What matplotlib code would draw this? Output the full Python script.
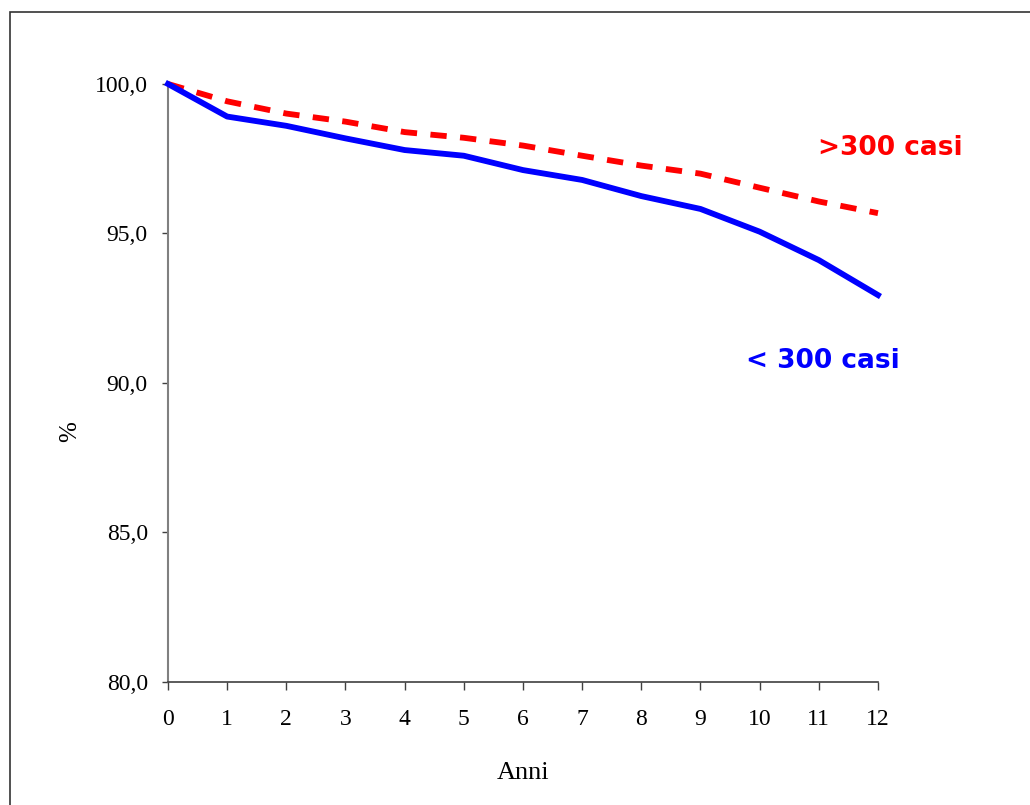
import matplotlib
matplotlib.use('Agg')
import matplotlib.pyplot as plt
from matplotlib.patches import Rectangle

anni = [0, 1, 2, 3, 4, 5, 6, 7, 8, 9, 10, 11, 12]
meno_300 = [100.0, 98.91, 98.60, 98.18, 97.79, 97.60, 97.12, 96.79, 96.25, 95.82, 95.06, 94.11, 92.94]
piu_300 = [100.0, 99.42, 99.01, 98.74, 98.39, 98.20, 97.94, 97.60, 97.27, 97.00, 96.53, 96.07, 95.68]
y_ticks = [80, 85, 90, 95, 100]
y_labels = ['80,0', '85,0', '90,0', '95,0', '100,0']

fig = plt.figure(figsize=(10.3, 8.05), dpi=100)
ax = fig.add_axes([0.1631, 0.1528, 0.6893, 0.7429])

# cornice esterna del grafico
fig.patches.append(Rectangle((10 / 1030, -0.05), 1.1, 1 - 12 / 805 + 0.05,
                             transform=fig.transFigure, fill=False,
                             edgecolor='#333333', linewidth=1.2))

ax.plot(anni, piu_300, color='red', linewidth=4.2, linestyle=(0, (2.8, 2.3)),
        solid_capstyle='butt', dash_capstyle='butt', clip_on=False, zorder=3)
ax.plot(anni, meno_300, color='#0000ff', linewidth=4.2, clip_on=False, zorder=4)

ax.set_xlim(0, 12)
ax.set_ylim(80, 100)
ax.set_xticks(anni)
ax.set_xticklabels([str(a) for a in anni], family='Liberation Serif', fontsize=17)
ax.set_yticks(y_ticks)
ax.set_yticklabels(y_labels, family='Liberation Serif', fontsize=17)

for s in ['top', 'right']:
    ax.spines[s].set_visible(False)
ax.spines['left'].set_color('#808080')
ax.spines['left'].set_linewidth(1.5)
ax.spines['bottom'].set_color('#404040')
ax.spines['bottom'].set_linewidth(1.2)
ax.tick_params(axis='x', direction='out', length=5.8, width=1.0, color='#404040', pad=14)
ax.tick_params(axis='y', direction='out', length=4.5, width=1.0, color='#404040', pad=10)

ax.set_xlabel('Anni', family='Liberation Serif', fontsize=19)
ax.xaxis.set_label_coords(0.5, -0.133)
ax.set_ylabel('%', family='Liberation Serif', fontsize=18)
ax.yaxis.set_label_coords(-0.123, 0.418)

ax.text(890 / 1030, 1 - 148 / 805, '>300 casi', transform=fig.transFigure,
        color='red', fontsize=19, fontweight='bold', ha='center', va='center')
ax.text(823 / 1030, 1 - 361 / 805, '< 300 casi', transform=fig.transFigure,
        color='#0000ff', fontsize=19, fontweight='bold', ha='center', va='center')

fig.savefig('out.png', dpi=100)
